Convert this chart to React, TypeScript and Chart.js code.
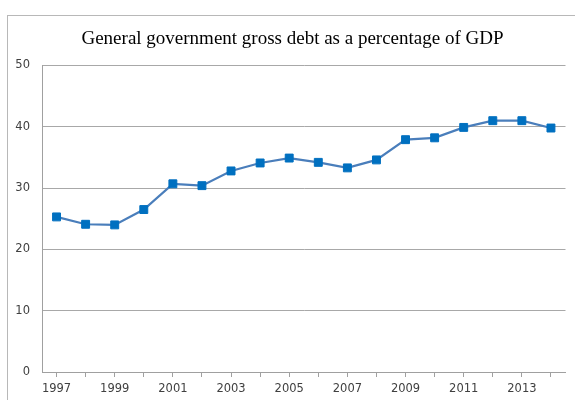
import React, { useEffect, useRef } from "react";
import { Chart, registerables } from "chart.js";

Chart.register(...registerables);

const titleText = "General government gross debt as a percentage of GDP";
const years = [
  "1997", "1998", "1999", "2000", "2001", "2002", "2003", "2004", "2005",
  "2006", "2007", "2008", "2009", "2010", "2011", "2012", "2013", "2014",
];
const debtPct = [
  25.3, 24.1, 24.0, 26.5, 30.7, 30.4, 32.8, 34.1, 34.9,
  34.2, 33.3, 34.6, 37.9, 38.2, 39.9, 41.0, 41.0, 39.8,
];
const yTicks = [0, 10, 20, 30, 40, 50];

const titlePlugin = {
  id: "customTitle",
  afterDraw(chart: any) {
    const ctx = chart.ctx;
    ctx.save();
    ctx.font = '19px "Liberation Serif", "Times New Roman", serif';
    ctx.fillStyle = "#000000";
    ctx.textAlign = "center";
    ctx.textBaseline = "alphabetic";
    ctx.fillText(titleText, 292.5, 43.5);
    ctx.restore();
  },
};

export default function App() {
  const canvasRef = useRef<HTMLCanvasElement | null>(null);

  useEffect(() => {
    if (!canvasRef.current) return;
    const chart = new Chart(canvasRef.current, {
      type: "line",
      data: {
        labels: years,
        datasets: [
          {
            data: debtPct,
            borderColor: "#4A7EBB",
            borderWidth: 2.2,
            pointStyle: "rect",
            pointRadius: 5.6,
            pointBackgroundColor: "#0070C0",
            pointBorderColor: "#0070C0",
            pointBorderWidth: 1,
            tension: 0,
          },
        ],
      },
      options: {
        animation: false,
        responsive: false,
        devicePixelRatio: 1,
        layout: { padding: { top: 65.5, left: 0, right: 9.5, bottom: 0 } },
        plugins: {
          legend: { display: false },
          title: { display: false },
          tooltip: { enabled: false },
        },
        scales: {
          x: {
            offset: true,
            grid: {
              offset: false,
              drawOnChartArea: false,
              drawTicks: true,
              tickLength: 5,
              color: "#a0a0a0",
            },
            border: { color: "#a0a0a0", width: 1 },
            ticks: {
              autoSkip: false,
              maxRotation: 0,
              padding: 5,
              color: "#404040",
              font: { family: '"DejaVu Sans", sans-serif', size: 11.5 },
              callback: (_v: any, i: number) => (i % 2 === 0 ? years[i] : ""),
            },
            afterFit: (s: any) => {
              s.height = 28;
            },
          },
          y: {
            min: yTicks[0],
            max: yTicks[yTicks.length - 1],
            grid: { color: "#a8a8a8", drawTicks: false },
            border: { color: "#a0a0a0", width: 1 },
            ticks: {
              stepSize: 10,
              padding: 12,
              color: "#404040",
              font: { family: '"DejaVu Sans", sans-serif', size: 11.5 },
            },
            afterFit: (s: any) => {
              s.width = 42;
            },
          },
        },
      },
      plugins: [titlePlugin],
    });
    return () => chart.destroy();
  }, []);

  return (
    <div style={{ position: "fixed", left: 0, top: 0, width: 575, height: 400, background: "#fff", overflow: "hidden" }}>
      <div
        style={{
          position: "absolute",
          left: 7,
          top: 15,
          width: 620,
          height: 420,
          borderLeft: "1px solid #b8b8b8",
          borderTop: "1px solid #b8b8b8",
        }}
      />
      <canvas ref={canvasRef} width={575} height={400} style={{ position: "absolute", left: 0, top: 0, width: 575, height: 400 }} />
    </div>
  );
}
